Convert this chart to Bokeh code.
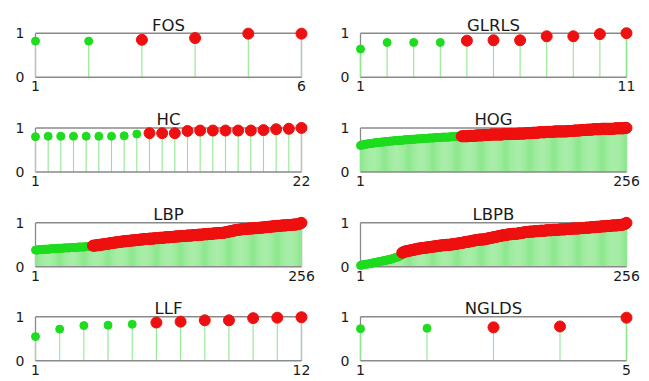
from bokeh.plotting import figure
from bokeh.layouts import gridplot
from bokeh.models import Range1d, FixedTicker, Label, ColumnDataSource, LinearAxis
from bokeh.embed import file_html
from bokeh.resources import INLINE

# ---- data (sorted scores per feature group); first n_green are green ----
fos = [0.82, 0.82, 0.85, 0.89, 0.99, 0.99]
fos_green = 2

glrls = [0.64, 0.79, 0.79, 0.79, 0.83, 0.84, 0.84, 0.93, 0.93, 0.98, 1.00]
glrls_green = 4

hc = [0.80, 0.81, 0.81, 0.81, 0.81, 0.81, 0.81, 0.82, 0.86,
      0.88, 0.88, 0.88, 0.93, 0.94, 0.94, 0.94, 0.94, 0.94, 0.95, 0.97, 0.98, 1.00]
hc_green = 9

hog = [
    0.60, 0.61, 0.61, 0.62, 0.62, 0.63, 0.63, 0.64, 0.64, 0.64, 0.65, 0.65, 0.65, 0.66, 0.66, 0.66,
    0.67, 0.67, 0.67, 0.67, 0.68, 0.68, 0.68, 0.68, 0.69, 0.69, 0.69, 0.69, 0.70, 0.70, 0.70, 0.70,
    0.71, 0.71, 0.71, 0.71, 0.71, 0.72, 0.72, 0.72, 0.72, 0.72, 0.73, 0.73, 0.73, 0.73, 0.73, 0.74,
    0.74, 0.74, 0.74, 0.74, 0.74, 0.75, 0.75, 0.75, 0.75, 0.75, 0.75, 0.76, 0.76, 0.76, 0.76, 0.76,
    0.76, 0.77, 0.77, 0.77, 0.77, 0.77, 0.77, 0.78, 0.78, 0.78, 0.78, 0.78, 0.78, 0.78, 0.79, 0.79,
    0.79, 0.79, 0.79, 0.79, 0.79, 0.79, 0.80, 0.80, 0.80, 0.80, 0.80, 0.80, 0.80, 0.80, 0.80, 0.80,
    0.80, 0.81, 0.81, 0.81, 0.81, 0.81, 0.81, 0.81, 0.82, 0.82, 0.82, 0.82, 0.82, 0.82, 0.82, 0.83,
    0.83, 0.83, 0.83, 0.83, 0.83, 0.83, 0.84, 0.84, 0.84, 0.84, 0.84, 0.84, 0.84, 0.85, 0.85, 0.85,
    0.85, 0.85, 0.85, 0.85, 0.85, 0.85, 0.85, 0.85, 0.85, 0.86, 0.86, 0.86, 0.86, 0.86, 0.86, 0.86,
    0.86, 0.86, 0.86, 0.86, 0.86, 0.86, 0.86, 0.87, 0.87, 0.87, 0.87, 0.87, 0.87, 0.87, 0.88, 0.88,
    0.88, 0.88, 0.88, 0.88, 0.88, 0.89, 0.89, 0.89, 0.89, 0.89, 0.89, 0.90, 0.90, 0.90, 0.90, 0.90,
    0.90, 0.90, 0.91, 0.91, 0.91, 0.91, 0.91, 0.91, 0.91, 0.91, 0.92, 0.92, 0.92, 0.92, 0.92, 0.92,
    0.92, 0.92, 0.92, 0.92, 0.92, 0.92, 0.92, 0.93, 0.93, 0.93, 0.93, 0.93, 0.93, 0.94, 0.94, 0.94,
    0.94, 0.94, 0.94, 0.95, 0.95, 0.95, 0.95, 0.95, 0.95, 0.96, 0.96, 0.96, 0.96, 0.96, 0.96, 0.97,
    0.97, 0.97, 0.97, 0.97, 0.97, 0.97, 0.97, 0.98, 0.98, 0.98, 0.98, 0.98, 0.98, 0.98, 0.98, 0.98,
    0.98, 0.98, 0.98, 0.98, 0.99, 0.99, 0.99, 0.99, 0.99, 0.99, 0.99, 0.99, 0.99, 1.00, 1.00, 1.00,
]
hog_green = 97

lbp = [
    0.38, 0.38, 0.38, 0.39, 0.39, 0.39, 0.39, 0.39, 0.40, 0.40, 0.40, 0.40, 0.40, 0.40, 0.41, 0.41,
    0.41, 0.41, 0.41, 0.41, 0.41, 0.42, 0.42, 0.42, 0.42, 0.42, 0.42, 0.43, 0.43, 0.43, 0.43, 0.43,
    0.43, 0.43, 0.44, 0.44, 0.44, 0.44, 0.44, 0.44, 0.44, 0.45, 0.45, 0.45, 0.45, 0.45, 0.45, 0.45,
    0.46, 0.46, 0.46, 0.46, 0.46, 0.46, 0.46, 0.48, 0.48, 0.48, 0.49, 0.49, 0.49, 0.50, 0.50, 0.50,
    0.51, 0.51, 0.51, 0.52, 0.52, 0.52, 0.53, 0.53, 0.54, 0.54, 0.54, 0.55, 0.55, 0.55, 0.56, 0.56,
    0.56, 0.57, 0.57, 0.57, 0.58, 0.58, 0.58, 0.58, 0.59, 0.59, 0.59, 0.59, 0.60, 0.60, 0.60, 0.60,
    0.61, 0.61, 0.61, 0.61, 0.62, 0.62, 0.62, 0.62, 0.63, 0.63, 0.63, 0.63, 0.63, 0.64, 0.64, 0.64,
    0.64, 0.64, 0.65, 0.65, 0.65, 0.65, 0.65, 0.66, 0.66, 0.66, 0.66, 0.66, 0.67, 0.67, 0.67, 0.67,
    0.67, 0.68, 0.68, 0.68, 0.68, 0.68, 0.69, 0.69, 0.69, 0.69, 0.69, 0.70, 0.70, 0.70, 0.70, 0.70,
    0.70, 0.71, 0.71, 0.71, 0.71, 0.71, 0.71, 0.72, 0.72, 0.72, 0.72, 0.72, 0.73, 0.73, 0.73, 0.73,
    0.73, 0.74, 0.74, 0.74, 0.74, 0.74, 0.75, 0.75, 0.75, 0.75, 0.75, 0.76, 0.76, 0.76, 0.76, 0.77,
    0.77, 0.77, 0.77, 0.77, 0.77, 0.78, 0.78, 0.79, 0.79, 0.80, 0.80, 0.81, 0.81, 0.82, 0.82, 0.83,
    0.83, 0.84, 0.84, 0.84, 0.85, 0.85, 0.85, 0.86, 0.86, 0.86, 0.86, 0.86, 0.87, 0.87, 0.87, 0.87,
    0.87, 0.88, 0.88, 0.88, 0.88, 0.88, 0.88, 0.89, 0.89, 0.89, 0.89, 0.90, 0.90, 0.90, 0.90, 0.91,
    0.91, 0.91, 0.91, 0.92, 0.92, 0.92, 0.92, 0.93, 0.93, 0.93, 0.93, 0.93, 0.94, 0.94, 0.94, 0.94,
    0.94, 0.95, 0.95, 0.95, 0.95, 0.95, 0.95, 0.96, 0.96, 0.96, 0.96, 0.97, 0.97, 0.98, 0.99, 1.00,
]
lbp_green = 55

lbpb = [
    0.03, 0.04, 0.04, 0.05, 0.05, 0.06, 0.06, 0.06, 0.07, 0.07, 0.08, 0.08, 0.09, 0.09, 0.10, 0.10,
    0.11, 0.11, 0.12, 0.12, 0.13, 0.13, 0.14, 0.14, 0.15, 0.15, 0.16, 0.16, 0.17, 0.17, 0.18, 0.19,
    0.20, 0.20, 0.21, 0.22, 0.23, 0.24, 0.25, 0.26, 0.32, 0.33, 0.34, 0.35, 0.35, 0.36, 0.36, 0.37,
    0.37, 0.38, 0.38, 0.39, 0.39, 0.40, 0.41, 0.41, 0.41, 0.42, 0.42, 0.42, 0.43, 0.43, 0.43, 0.44,
    0.44, 0.44, 0.45, 0.45, 0.45, 0.46, 0.46, 0.46, 0.47, 0.47, 0.47, 0.48, 0.48, 0.48, 0.49, 0.49,
    0.49, 0.49, 0.50, 0.50, 0.50, 0.50, 0.50, 0.51, 0.51, 0.51, 0.52, 0.52, 0.52, 0.53, 0.53, 0.54,
    0.54, 0.54, 0.55, 0.55, 0.56, 0.56, 0.57, 0.57, 0.57, 0.58, 0.58, 0.59, 0.59, 0.60, 0.60, 0.61,
    0.61, 0.61, 0.62, 0.62, 0.62, 0.62, 0.62, 0.63, 0.63, 0.64, 0.64, 0.65, 0.65, 0.66, 0.66, 0.67,
    0.67, 0.68, 0.68, 0.69, 0.69, 0.70, 0.70, 0.71, 0.71, 0.72, 0.72, 0.72, 0.73, 0.73, 0.74, 0.74,
    0.74, 0.74, 0.75, 0.75, 0.75, 0.75, 0.75, 0.76, 0.76, 0.77, 0.77, 0.77, 0.78, 0.78, 0.79, 0.79,
    0.79, 0.79, 0.80, 0.80, 0.80, 0.80, 0.80, 0.81, 0.81, 0.81, 0.81, 0.81, 0.82, 0.82, 0.82, 0.82,
    0.82, 0.82, 0.83, 0.83, 0.83, 0.83, 0.83, 0.83, 0.84, 0.84, 0.84, 0.84, 0.84, 0.84, 0.84, 0.85,
    0.85, 0.85, 0.85, 0.85, 0.85, 0.86, 0.86, 0.86, 0.86, 0.86, 0.86, 0.87, 0.87, 0.87, 0.87, 0.87,
    0.87, 0.87, 0.88, 0.88, 0.88, 0.88, 0.88, 0.88, 0.89, 0.89, 0.89, 0.89, 0.89, 0.90, 0.90, 0.90,
    0.90, 0.90, 0.91, 0.91, 0.91, 0.91, 0.91, 0.92, 0.92, 0.92, 0.92, 0.92, 0.93, 0.93, 0.93, 0.93,
    0.93, 0.94, 0.94, 0.94, 0.94, 0.94, 0.94, 0.95, 0.95, 0.95, 0.95, 0.96, 0.96, 0.97, 0.98, 1.00,
]
lbpb_green = 40

llf = [0.55, 0.72, 0.80, 0.81, 0.83, 0.87, 0.89, 0.92, 0.92, 0.97, 0.98, 0.99]
llf_green = 5

nglds = [0.73, 0.74, 0.76, 0.78, 0.98]
nglds_green = 2

titles = ["FOS", "GLRLS", "HC", "HOG", "LBP", "LBPB", "LLF", "NGLDS"]
series = [fos, glrls, hc, hog, lbp, lbpb, llf, nglds]
greens = [fos_green, glrls_green, hc_green, hog_green, lbp_green, lbpb_green, llf_green, nglds_green]
y_ticks = [0, 1]

# ---- styling / layout (pixels) ----
STEM = "#8fe88f"
GREEN = "#1edc1e"
RED = "#ee1010"
BOX = "#8a8a8a"
TXT = "#1a1a1a"
FONT = "DejaVu Sans"

BOX_W = 266                      # px between x=1 and x=N
BOX_H = 44                       # px between y=0 and y=1
COL_SPAN = [(0, 330), (330, 649)]   # figure x extents on the page
COL_BOX_LEFT = [35, 360]
ROW_SPAN = [(0, 100), (100, 195), (195, 289), (289, 380)]
ROW_BOX_TOP = [32.7, 127.4, 222.3, 316.3]


def make_panel(title, vals, n_green, col, row):
    n = len(vals)
    xs = list(range(1, n + 1))
    cx0, cx1 = COL_SPAN[col]
    ry0, ry1 = ROW_SPAN[row]
    bx = COL_BOX_LEFT[col]
    bt = ROW_BOX_TOP[row]
    kx = (n - 1) / BOX_W
    x_start = 1 - (bx - cx0) * kx
    x_end = 1 + (cx1 - bx) * kx
    y_end = (bt + BOX_H - ry0) / BOX_H
    y_start = (bt + BOX_H - ry1) / BOX_H

    p = figure(width=cx1 - cx0, height=ry1 - ry0,
               x_range=Range1d(x_start, x_end), y_range=Range1d(y_start, y_end),
               x_axis_type=None, y_axis_type=None,
               toolbar_location=None, output_backend="svg", min_border=0)
    p.outline_line_color = None
    p.background_fill_color = "white"
    p.border_fill_color = "white"

    yax = LinearAxis(fixed_location=1, ticker=FixedTicker(ticks=y_ticks))
    xax = LinearAxis(fixed_location=0, ticker=FixedTicker(ticks=[1, n]))
    for ax in (yax, xax):
        ax.axis_line_color = None
        ax.major_tick_line_color = None
        ax.minor_tick_line_color = None
        ax.major_tick_out = 0
        ax.major_tick_in = 0
        ax.major_label_text_font = FONT
        ax.major_label_text_font_size = "14px"
        ax.major_label_text_color = TXT
    yax.major_label_standoff = 11
    xax.major_label_standoff = 4
    p.add_layout(yax, "left")
    p.add_layout(xax, "below")

    # box sides
    p.segment(x0=[1, n], y0=[0, 0], x1=[1, n], y1=[1, 1], line_color=BOX, line_width=1.3)
    # stems
    p.segment(x0=xs, y0=[0] * n, x1=xs, y1=vals, line_color=STEM, line_width=1.1)
    # top / bottom lines
    p.segment(x0=[1, 1], y0=[0, 1], x1=[n, n], y1=[0, 1], line_color=BOX, line_width=1.5)

    g_src = ColumnDataSource(dict(x=xs[:n_green], y=vals[:n_green]))
    r_src = ColumnDataSource(dict(x=xs[n_green:], y=vals[n_green:]))
    p.scatter("x", "y", source=g_src, size=8, fill_color=GREEN, line_color=GREEN)
    p.scatter("x", "y", source=r_src, size=11, fill_color=RED, line_color=RED)

    p.add_layout(Label(x=(1 + n) / 2, y=1, y_offset=8, text=title,
                       text_align="center", text_baseline="alphabetic",
                       text_font=FONT, text_font_size="16.5px", text_color=TXT))
    return p


children = []
for r in range(4):
    row_figs = []
    for c in range(2):
        i = r * 2 + c
        row_figs.append(make_panel(titles[i], series[i], greens[i], c, r))
    children.append(row_figs)

grid = gridplot(children, toolbar_location=None)

open("out.html", "w").write(file_html(grid, INLINE))
